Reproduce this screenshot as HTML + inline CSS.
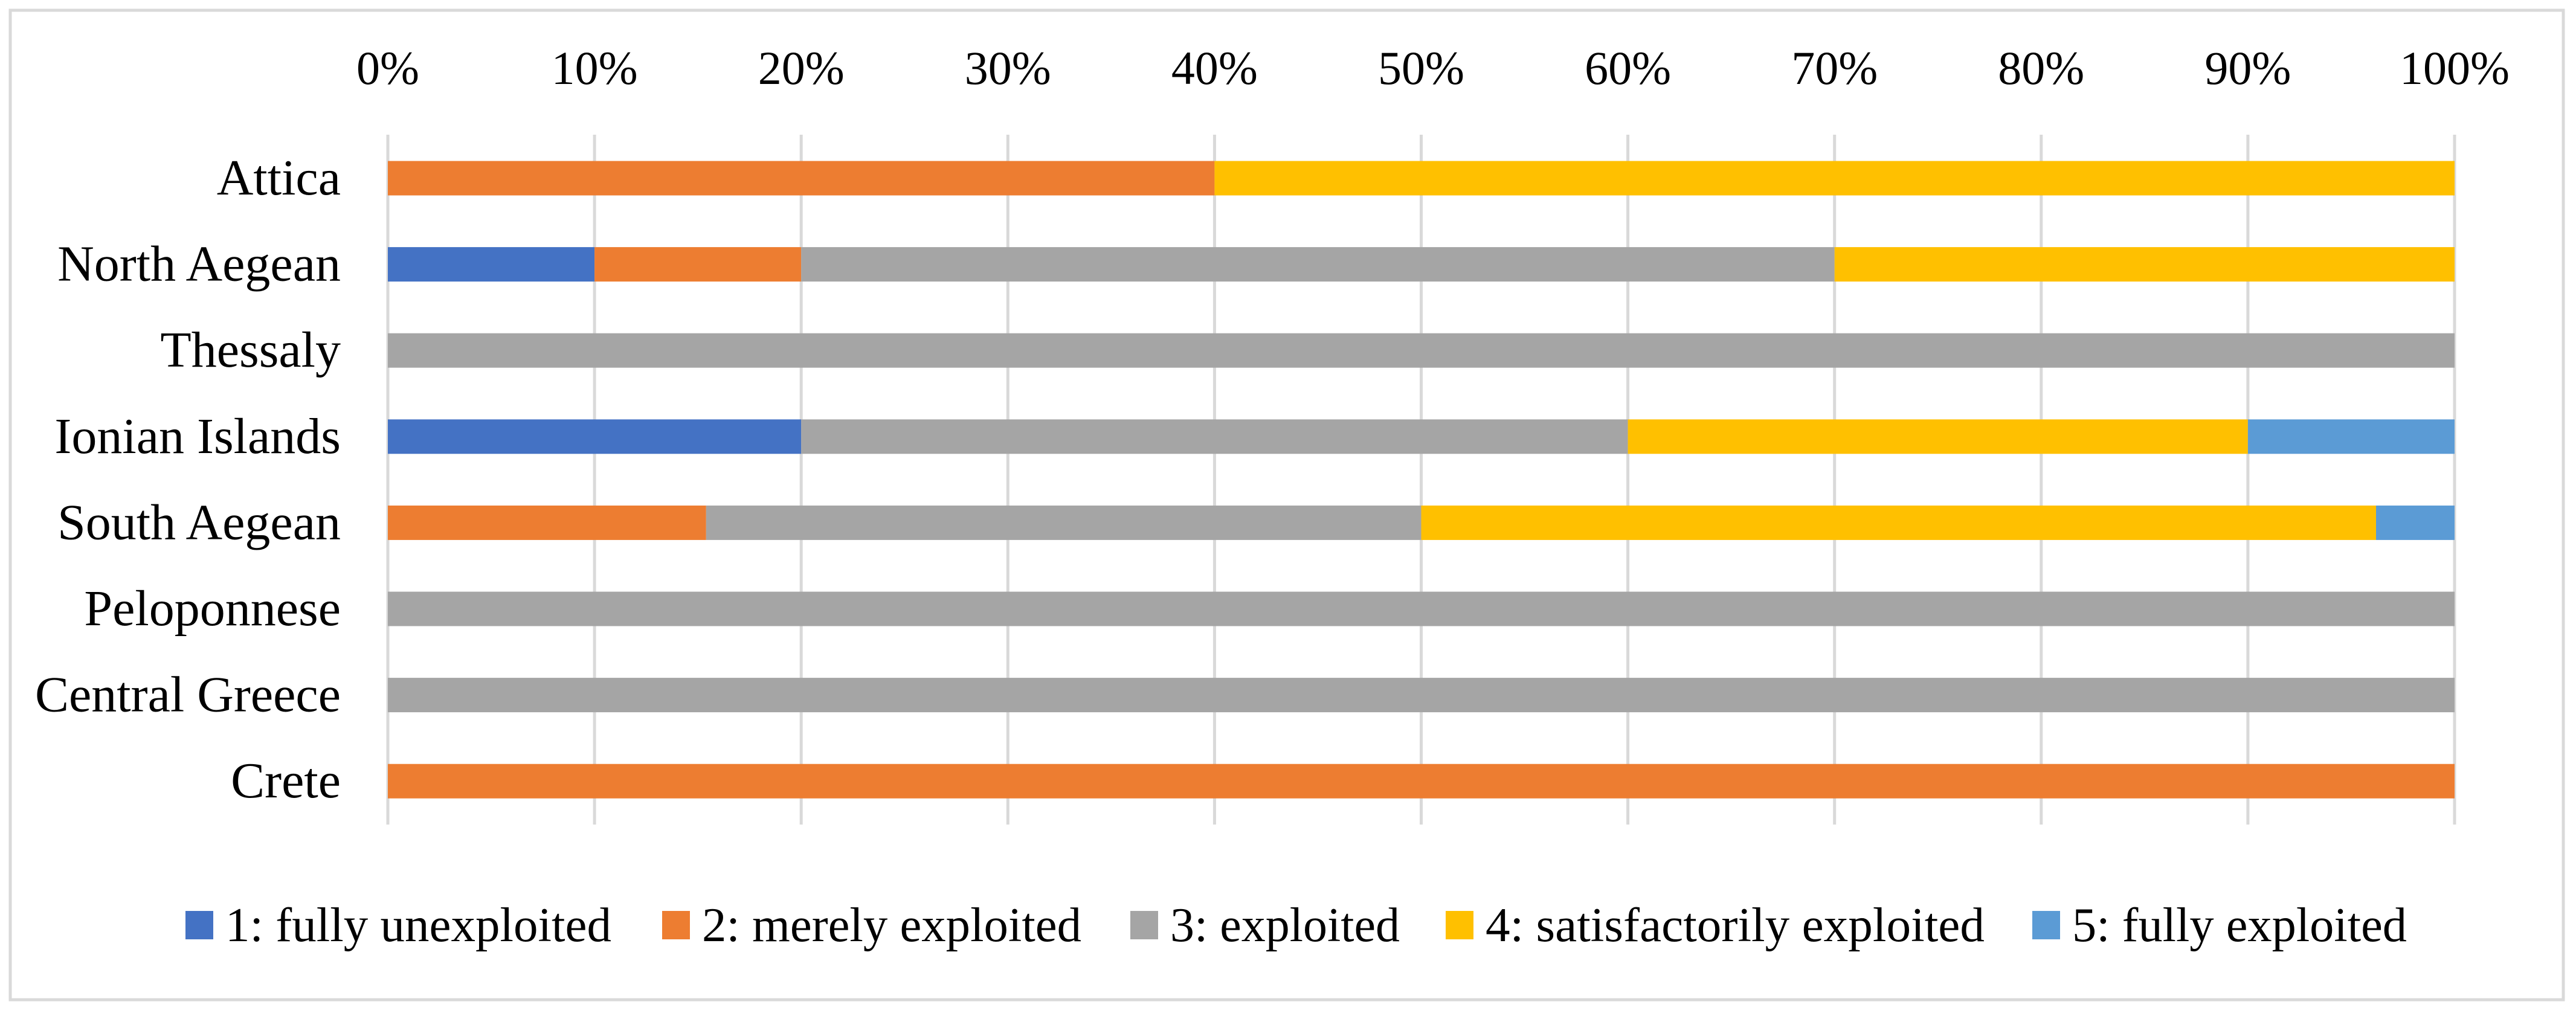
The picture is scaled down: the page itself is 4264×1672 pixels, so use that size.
<!DOCTYPE html>
<html><head><meta charset="utf-8"><style>
html,body{margin:0;padding:0;background:#fff;}
svg{display:block;font-family:"Liberation Serif",serif;}
</style></head><body>
<svg id="chart" width="4264" height="1672" viewBox="0 0 4264 1672" xmlns="http://www.w3.org/2000/svg">
<rect x="17" y="17" width="4226" height="1638" fill="#fff" stroke="#d9d9d9" stroke-width="5"/>
<g id="grid"></g><g id="bars"></g><g id="xticks"></g><g id="ylabels"></g><g id="legend"></g>
</svg>
<script>
const categories = ["Attica","North Aegean","Thessaly","Ionian Islands","South Aegean","Peloponnese","Central Greece","Crete"];
const seriesNames = ["1: fully unexploited","2: merely exploited","3: exploited","4: satisfactorily exploited","5: fully exploited"];
const s1 = [0,10,0,20,0,0,0,0];
const s2 = [40,10,0,0,15.4,0,0,100];
const s3 = [0,50,100,40,34.6,100,100,0];
const s4 = [60,30,0,30,46.2,0,0,0];
const s5 = [0,0,0,10,3.8,0,0,0];
const tickValues = [0,10,20,30,40,50,60,70,80,90,100];
const tickLabels = ["0%","10%","20%","30%","40%","50%","60%","70%","80%","90%","100%"];

const colors = ["#4472C4","#ED7D31","#A5A5A5","#FFC000","#5B9BD5"];
const series = [s1,s2,s3,s4,s5];
const NS = "http://www.w3.org/2000/svg";
const x0 = 642, x1 = 4063, plotTop = 223, plotBottom = 1365;
const xScale = v => x0 + (x1 - x0) * v / 100;
const rowY = i => 295 + i * 142.6;
const barH = 57;
function mk(tag, attrs, parent){const e=document.createElementNS(NS,tag);for(const k in attrs)e.setAttribute(k,attrs[k]);parent.appendChild(e);return e;}
const grid=document.getElementById('grid'), bars=document.getElementById('bars'), xt=document.getElementById('xticks'), yl=document.getElementById('ylabels'), lg=document.getElementById('legend');
tickValues.forEach((v,i)=>{
  const l=mk('line',{x1:xScale(v),x2:xScale(v),y1:plotTop,y2:plotBottom,stroke:'#d9d9d9','stroke-width':5},grid);
  
  
  const t=mk('text',{x:xScale(v),y:139,'text-anchor':'middle','font-size':78,fill:'#000'},xt);
  t.textContent=tickLabels[i];
  
  
});
categories.forEach((c,i)=>{
  const t=mk('text',{x:564,y:rowY(i)+27,'text-anchor':'end','font-size':84,fill:'#000'},yl);
  t.textContent=c;
  
  
  let acc=0;
  series.forEach((s,k)=>{
    const v=s[i];
    if(v>0){
      const r=mk('rect',{x:xScale(acc),y:rowY(i)-barH/2,width:xScale(acc+v)-xScale(acc),height:barH,fill:colors[k]},bars);
      
      
    }
    acc+=v;
  });
});
const legX=[307,1096,1871,2393,3364], legEnd=[1012,1790,2317,3285,3984];
seriesNames.forEach((n,k)=>{
  const g=mk('g',{},lg);
  
  
  mk('rect',{x:legX[k],y:1508,width:46,height:47,fill:colors[k]},g);
  const t=mk('text',{x:legX[k]+66,y:1558,'font-size':80,fill:'#000',textLength:legEnd[k]-legX[k]-66,lengthAdjust:'spacingAndGlyphs'},g);
  t.textContent=n;
});
</script>
</body></html>
